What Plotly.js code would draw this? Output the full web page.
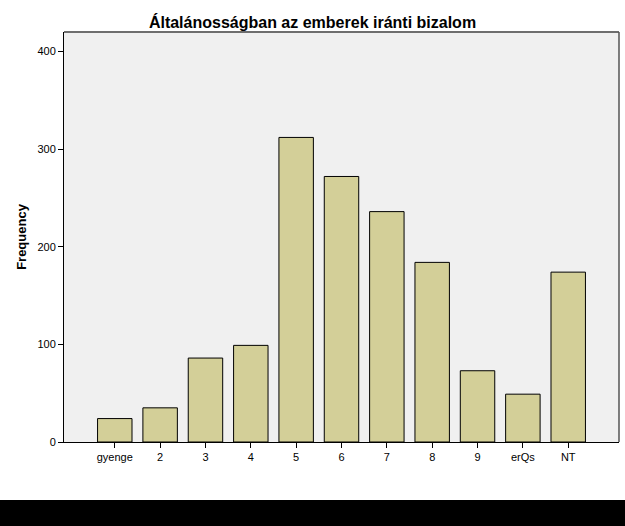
<!DOCTYPE html>
<html>
<head>
<meta charset="utf-8">
<script src="https://cdn.plot.ly/plotly-3.0.1.min.js"></script>
<style>
  html, body { margin: 0; padding: 0; background: #ffffff; }
  #chart { width: 625px; height: 500px; }
  #band { width: 625px; height: 26px; background: #000000; }
</style>
</head>
<body>
<div id="chart"></div>
<div id="band"></div>
<script>
const categories = ["gyenge", "2", "3", "4", "5", "6", "7", "8", "9", "erQs", "NT"];
const frequencies = [24, 35, 86, 99, 312, 272, 236, 184, 73, 49, 174];
const yTicks = [0, 100, 200, 300, 400];

const trace = {
  type: "bar",
  x: categories,
  y: frequencies,
  marker: { color: "#d3cf98", line: { color: "#000000", width: 1 } },
  hoverinfo: "none"
};

const layout = {
  width: 625,
  height: 500,
  margin: { l: 64, r: 6, t: 32, b: 58 },
  paper_bgcolor: "#ffffff",
  plot_bgcolor: "#f0f0f0",
  bargap: 0.24,
  showlegend: false,
  font: { family: "Liberation Sans, Arial, sans-serif", color: "#000000" },
  title: {
    text: "<b>Általánosságban az emberek iránti bizalom</b>",
    font: { family: "Liberation Sans, Arial, sans-serif", size: 16, color: "#000000" },
    x: 0.5, xref: "container", xanchor: "center",
    y: 1, yref: "paper", yanchor: "bottom", pad: { b: 4 }
  },
  xaxis: {
    type: "category",
    range: [-1.12, 10 + 1.12],
    showgrid: false,
    zeroline: false,
    showline: true, linecolor: "#000000", linewidth: 1,
    ticks: "outside", ticklen: 5, tickcolor: "#000000", tickwidth: 1,
    tickfont: { size: 11, color: "#000000" },
    fixedrange: true
  },
  yaxis: {
    range: [0, 420],
    tickvals: yTicks,
    ticktext: yTicks.map(String),
    showgrid: false,
    zeroline: false,
    showline: true, linecolor: "#000000", linewidth: 1,
    ticks: "outside", ticklen: 5, tickcolor: "#000000", tickwidth: 1,
    tickfont: { size: 11, color: "#000000" },
    title: { text: "<b>Frequency</b>", font: { size: 13, color: "#000000" }, standoff: 7 },
    fixedrange: true
  },
  shapes: [
    { type: "line", xref: "paper", yref: "paper", x0: 0, x1: 1, y0: 1, y1: 1, line: { color: "#6e6e6e", width: 2 } },
    { type: "line", xref: "paper", yref: "paper", x0: 1, x1: 1, y0: 0, y1: 1, line: { color: "#555555", width: 1.5 } }
  ]
};

Plotly.newPlot("chart", [trace], layout, { displayModeBar: false, staticPlot: true });
</script>
</body>
</html>
